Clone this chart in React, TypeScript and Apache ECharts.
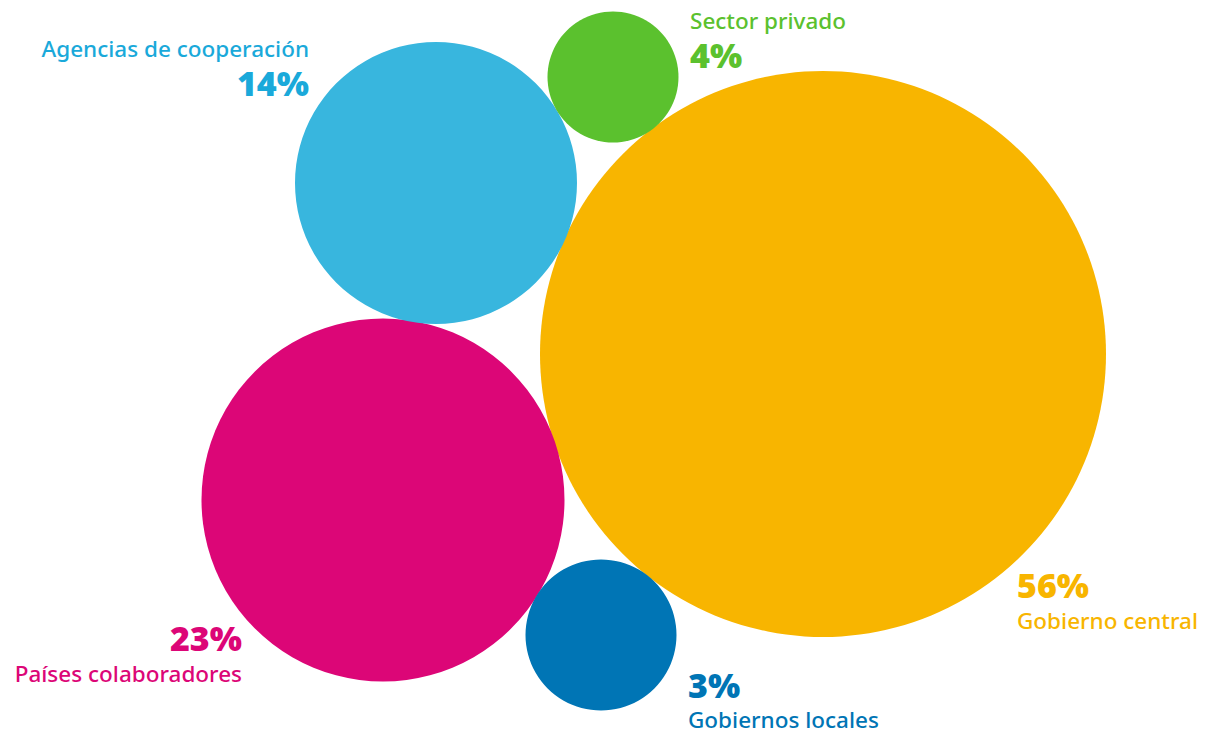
import React, { useEffect, useRef } from "react";
import * as echarts from "echarts";

const categories = [
  "Gobierno central",
  "Países colaboradores",
  "Agencias de cooperación",
  "Sector privado",
  "Gobiernos locales",
];
const shares = [56, 23, 14, 4, 3];
const colors = ["#F8B500", "#DC0677", "#38B6DE", "#5BC12E", "#0075B5"];
const labelColors = ["#F8B500", "#DC0677", "#1AA9DA", "#5BC12E", "#0075B5"];

// bubble layout (page pixel units)
const bubbleX = [823, 383, 436, 613, 601];
const bubbleY = [354, 500, 183, 77, 635];
const bubbleD = [566, 363, 282, 131, 151];

// label layout: [x, nameY, pctY, align]
const labelLayout: [number, number, number, "left" | "right"][] = [
  [1017, 620, 585, "left"],
  [242, 673, 638, "right"],
  [309, 48, 83, "right"],
  [690, 20, 55, "left"],
  [688, 719, 685, "left"],
];

const NAME_FONT = "'Noto Sans', 'Open Sans', sans-serif";
const PCT_FONT = "'Noto Sans', Lato, sans-serif";

export default function App() {
  const ref = useRef<HTMLDivElement>(null);
  useEffect(() => {
    if (!ref.current) return;
    const chart = echarts.init(ref.current, undefined, { renderer: "svg" });
    const bubbles = categories.map((c, i) => ({
      name: c,
      value: [bubbleX[i], bubbleY[i], shares[i]],
      symbolSize: bubbleD[i],
      itemStyle: { color: colors[i], opacity: 1 },
    }));
    const labels: any[] = [];
    categories.forEach((c, i) => {
      const [x, ny, py, align] = labelLayout[i];
      labels.push({
        value: [x, ny],
        itemStyle: { opacity: 1 },
        label: {
          show: true,
          position: "inside",
          formatter: c,
          align,
          verticalAlign: "middle",
          color: labelColors[i],
          opacity: 1,
          fontSize: 22.5,
          lineHeight: 24,
          fontWeight: 500,
          fontFamily: NAME_FONT,
        },
      });
      labels.push({
        value: [x, py],
        itemStyle: { opacity: 1 },
        label: {
          show: true,
          position: "inside",
          formatter: shares[i] + "%",
          align,
          verticalAlign: "middle",
          color: labelColors[i],
          opacity: 1,
          fontSize: 34,
          lineHeight: 30,
          fontWeight: 900,
          fontFamily: PCT_FONT,
        },
      });
    });
    chart.setOption({
      animation: false,
      grid: { left: 0, right: 0, top: 0, bottom: 0 },
      xAxis: { type: "value", min: 0, max: 1207, show: false },
      yAxis: { type: "value", min: 0, max: 733, inverse: true, show: false },
      series: [
        {
          type: "scatter",
          symbol: "circle",
          data: bubbles,
          silent: true,
          itemStyle: { opacity: 1 },
        },
        {
          type: "scatter",
          symbolSize: 0,
          data: labels,
          silent: true,
          itemStyle: { opacity: 1 },
        },
      ],
    });
    return () => chart.dispose();
  }, []);
  return (
    <div
      ref={ref}
      style={{ position: "fixed", left: 0, top: 0, width: 1207, height: 733, background: "#fff" }}
    />
  );
}
